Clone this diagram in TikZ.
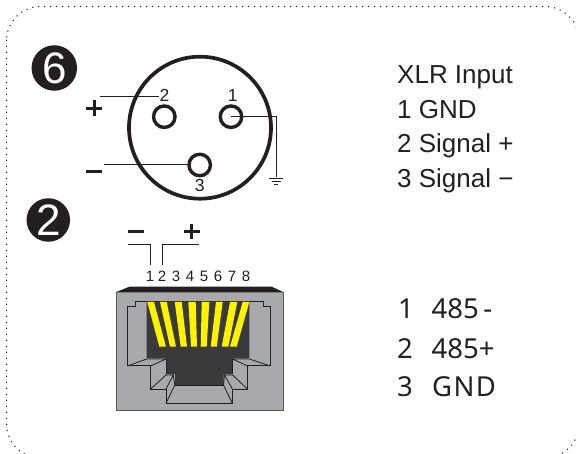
\documentclass[tikz,border=0pt]{standalone}
\usepackage{fontspec}
\setmainfont{Liberation Sans}
\newfontfamily\myr{Noto Sans}
\newfontfamily\myrw[LetterSpace=5]{Noto Sans}
\definecolor{ink}{HTML}{231F20}
\definecolor{bodyg}{HTML}{A7A9AC}
\definecolor{cav}{HTML}{3A3A3C}
\definecolor{pinY}{HTML}{FFF200}
\tikzset{
  lbl/.style={anchor=base west,inner sep=0pt,text=ink,font=\fontsize{26}{26}\selectfont},
  lblb/.style={anchor=base west,inner sep=0pt,text=ink,font=\myr\fontsize{27.5}{27.5}\selectfont},
  lblw/.style={anchor=base west,inner sep=0pt,text=ink,font=\myrw\fontsize{27.5}{27.5}\selectfont},
  dig/.style={anchor=base,inner sep=0pt,text=ink,font=\fontsize{17.5}{18}\selectfont},
  digs/.style={anchor=base,inner sep=0pt,text=ink,font=\fontsize{15}{15}\selectfont},
  badge/.style={circle,fill=ink,inner sep=0pt,minimum size=45.5pt,text=white,font=\fontsize{44}{44}\selectfont},
  pin/.style={circle,draw=ink,line width=3.4pt,fill=white,inner sep=0pt,minimum size=21.5pt},
  wire/.style={draw=ink,line width=1pt},
  sign/.style={draw=ink,line width=3pt},
  edge/.style={draw=ink,line width=.8pt,line join=miter},
}
\begin{document}
\begin{tikzpicture}[x=1pt,y=-1pt]
\useasboundingbox (0,0) rectangle (576,454);
\fill[white] (0,0) rectangle (576,454);
\begin{scope}
\clip (0,0) rectangle (576,454);
\draw[ink,line width=1.5pt,line cap=round,dash pattern=on 0pt off 6pt,rounded corners=34pt] (6.5,6.5) rectangle (579,458);
\end{scope}
% badges
\node[badge] (six) at (54.3,68) {6};
\node[badge,minimum size=43.5pt] (two) at (48.3,220) {2};
% XLR
\draw[ink,line width=3.7pt] (200,127.7) circle (71pt);
\node[pin] (p2) at (164.3,116.7) {};
\node[pin] (p1) at (231,116.7) {};
\node[pin] (p3) at (199.7,165) {};
\node[dig] (n2) at (164.6,102) {2};
\node[dig] (n1) at (232.7,102) {1};
\node[dig] (n3) at (199.7,192) {3};
\coordinate (w2) at (100,97);
\coordinate (w2e) at (159,97);
\coordinate (w3) at (104,165);
\coordinate (gt) at (276.3,177.3);
\draw[wire] (w2) -- (w2e);
\draw[wire] (w3) -- (p3.west);
\draw[wire] (p1.center) -| (gt);
\draw[ink,line width=1pt] (269.3,178.3) -- (283.3,178.3) (271.7,181.5) -- (280.7,181.5) (274,184.4) -- (278.3,184.4);
\draw[sign] (86.3,108.3) -- (102.3,108.3) (94.3,100.3) -- (94.3,116.3);
\draw[sign] (86,171.3) -- (102.3,171.3);
% RJ45 labels
\foreach \x/\t in {150/1,162/2,176/3,190/4,204/5,218/6,232/7,246/8}
  \node[digs] (r\t) at (\x,281.5) {\t};
\coordinate (a1) at (128,244.7);
\coordinate (b1) at (150.3,265);
\coordinate (a2) at (199.3,244.7);
\coordinate (b2) at (162.3,265);
\draw[wire] (a1) -| (b1);
\draw[wire] (a2) -| (b2);
\draw[sign] (128,231.7) -- (144,231.7);
\draw[sign] (184,231.7) -- (199.5,231.7) (191.7,224) -- (191.7,239.5);
% RJ45 body
\fill[bodyg] (116,292) rectangle (283.3,410);
\draw[ink!75,line width=.9pt] (116,292) -- (116,410) -- (283.3,410) -- (283.3,292);
\fill[ink] (115,292.5) -- (129.5,286.7) -- (271.7,286.7) -- (284.3,292.5) -- cycle;
% cavity outline
\draw[edge] (127.7,365.9) -- (127.7,306.7) -- (135,306.7) -- (135,301) -- (263.3,301) -- (263.3,306.7) -- (270,306.7) -- (270,365.9) -- (247.3,365.9) -- (247.3,389) -- (232.3,389) -- (232.3,403.3) -- (166,403.3) -- (166,389) -- (150.7,389) -- (150.7,365.9) -- cycle;
% dark interior
\fill[cav] (146.7,301.5) -- (249.3,301.5) -- (249.3,358.5) -- (232.7,358.5) -- (232.7,374.5) -- (223.5,374.5) -- (223.5,385) -- (175,385) -- (175,374.5) -- (166,374.5) -- (166,358.5) -- (146.7,358.5) -- cycle;
% facets
\draw[edge] (127.7,365.9) -- (146.7,359) -- (166,359) -- (150.7,365.9);
\draw[edge] (270,365.9) -- (249.3,359) -- (232.7,359) -- (247.3,365.9);
\draw[edge] (150.7,389) -- (166,375) -- (173.3,375) -- (166,389);
\draw[edge] (247.3,389) -- (232.7,375) -- (224.5,375) -- (232.3,389);
\draw[edge] (173.3,375) -- (174.8,385) -- (166,403.3);
\draw[edge] (224.5,375) -- (223.5,385) -- (232.3,403.3);
\draw[edge] (174.8,385) -- (223.5,385);
\draw[edge] (166,374.5) -- (166,359) (232.7,374.5) -- (232.7,359);
% contacts
\foreach \a/\b/\c/\d in {
  147.3/154/159.3/166,
  160/166.7/170/176,
  174.7/181.7/180.7/187,
  188.3/195.7/191/197,
  201.7/209.3/200.7/206.7,
  216/222.7/210.7/216.7,
  230/237.3/221.7/228.3,
  242.7/249.3/230/236.7}
  \fill[pinY] (\a,302) -- (\b,302) -- (\d,346.7) -- (\c,346.7) -- cycle;
% text
\node[lbl] (t1) at (397,83.3) {XLR Input};
\node[lbl] (t2) at (397,118.3) {1 GND};
\node[lbl] (t3) at (397,152.8) {2 Signal +};
\node[lbl] (t4) at (397,187.5) {3 Signal −};
\node[lblb] (u1) at (398,318.3) {1};
\node[lblb] (u1b) at (431.5,318.3) {485\,-};
\node[lblb] (u2) at (397,358.3) {2};
\node[lblb] (u2b) at (431.5,358.3) {485+};
\node[lblb] (u3) at (397,396.7) {3};
\node[lblw] (u3b) at (432,396.7) {GND};
\end{tikzpicture}
\end{document}
